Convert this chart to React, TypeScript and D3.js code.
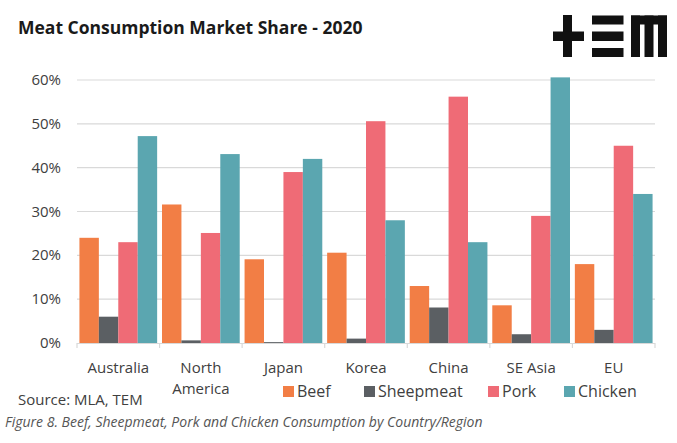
import React from "react";
import * as d3 from "d3";

const categories = ["Australia", "North America", "Japan", "Korea", "China", "SE Asia", "EU"];
const seriesNames = ["Beef", "Sheepmeat", "Pork", "Chicken"];
const beef = [24, 31.6, 19.1, 20.6, 13, 8.6, 18];
const sheepmeat = [6, 0.6, 0.2, 1, 8.1, 2, 3];
const pork = [23, 25.1, 39, 50.6, 56.2, 29, 45];
const chicken = [47.2, 43.1, 42, 28, 23, 60.6, 34];
const yTicks = [0, 10, 20, 30, 40, 50, 60];
const seriesValues = [beef, sheepmeat, pork, chicken];
const colors = ["#F27E45", "#5B5F63", "#EF6B76", "#5BA6B0"];

const W = 677;
const H = 443;
const plot = { left: 77, right: 655, top: 80, bottom: 343 };

export default function App() {
  const x0 = d3.scaleBand<string>().domain(categories).range([plot.left, plot.right]).paddingInner(0).paddingOuter(0);
  const x1 = d3
    .scaleBand<string>()
    .domain(seriesNames)
    .range([0, x0.bandwidth()])
    .paddingInner(0)
    .paddingOuter(0.125);
  const y = d3.scaleLinear().domain([0, 60]).range([plot.bottom, plot.top]);
  const font = "'Open Sans', sans-serif";
  const text = "#404040";

  const legendItems = [
    { sq: 283, tx: 297 },
    { sq: 364, tx: 378 },
    { sq: 488, tx: 502 },
    { sq: 564, tx: 578 },
  ];

  return (
    <svg
      width={W}
      height={H}
      style={{ position: "absolute", left: 0, top: 0, background: "#fff" }}
      fontFamily={font}
    >
      <rect x={0} y={0} width={W} height={H} fill="#fff" />
      <text x={18} y={34} fontSize={17.5} fontWeight={700} fill="#1a1a1a">
        Meat Consumption Market Share - 2020
      </text>
      {/* logo */}
      <g fill="#111">
        <rect x={563} y={15} width={9} height={42} />
        <rect x={553} y={31.5} width={31} height={9.5} />
        <rect x={592} y={15.5} width={31.5} height={9} />
        <rect x={592} y={31.5} width={31.5} height={9.5} />
        <rect x={592} y={48} width={31.5} height={9} />
        <rect x={631} y={15.5} width={36} height={9} />
        <rect x={631} y={15.5} width={9} height={41.5} />
        <rect x={644.5} y={15.5} width={9} height={41.5} />
        <rect x={658} y={15.5} width={9} height={41.5} />
      </g>
      {/* grid */}
      {yTicks.map((t) => (
        <g key={t}>
          {t > 0 && (
            <line x1={plot.left} x2={plot.right} y1={y(t)} y2={y(t)} stroke="#D9D9D9" strokeWidth={1.2} />
          )}
          <text x={61} y={y(t) + 5} textAnchor="end" fontSize={15} fill={text}>
            {t}%
          </text>
        </g>
      ))}
      {/* bars */}
      {categories.map((c, i) => (
        <g key={c} transform={`translate(${x0(c)},0)`}>
          {seriesNames.map((s, j) => (
            <rect
              key={s}
              x={x1(s)}
              y={y(seriesValues[j][i])}
              width={x1.bandwidth()}
              height={plot.bottom - y(seriesValues[j][i])}
              fill={colors[j]}
            />
          ))}
        </g>
      ))}
      {/* x axis */}
      <line x1={plot.left} x2={plot.right} y1={plot.bottom + 0.5} y2={plot.bottom + 0.5} stroke="#D9D9D9" strokeWidth={1.2} />
      {categories.map((c) => (
        <line
          key={"t" + c}
          x1={x0(c)}
          x2={x0(c)}
          y1={plot.bottom}
          y2={plot.bottom + 5}
          stroke="#D9D9D9"
          strokeWidth={1.2}
        />
      ))}
      <line x1={plot.right} x2={plot.right} y1={plot.bottom} y2={plot.bottom + 5} stroke="#D9D9D9" strokeWidth={1.2} />
      {categories.map((c) => {
        const parts = c === "North America" ? ["North", "America"] : [c];
        return (
          <text key={"l" + c} x={(x0(c) as number) + x0.bandwidth() / 2} y={373} textAnchor="middle" fontSize={15} fill={text}>
            {parts.map((p, k) => (
              <tspan key={k} x={(x0(c) as number) + x0.bandwidth() / 2} dy={k === 0 ? 0 : 21}>
                {p}
              </tspan>
            ))}
          </text>
        );
      })}
      {/* legend */}
      {seriesNames.map((s, j) => (
        <g key={"lg" + s}>
          <rect x={legendItems[j].sq} y={386} width={11} height={11} fill={colors[j]} />
          <text x={legendItems[j].tx} y={397} fontSize={16} fill={text}>
            {s}
          </text>
        </g>
      ))}
      <text x={18} y={405} fontSize={15} fill={text}>
        Source: MLA, TEM
      </text>
      <text x={5} y={427} fontSize={14} fontStyle="italic" fill="#555">
        Figure 8. Beef, Sheepmeat, Pork and Chicken Consumption by Country/Region
      </text>
    </svg>
  );
}
